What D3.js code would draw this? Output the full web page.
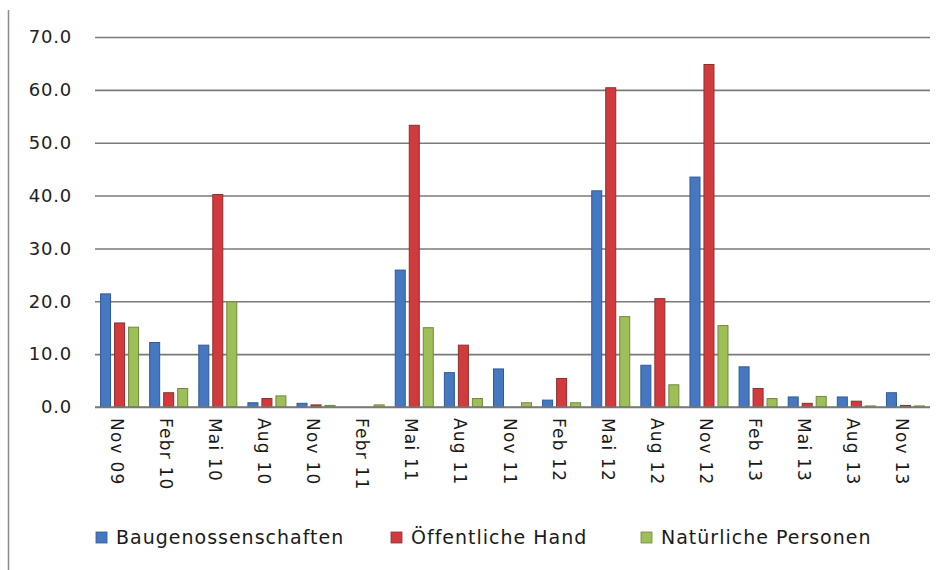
<!DOCTYPE html>
<html>
<head>
<meta charset="utf-8">
<script src="https://cdn.jsdelivr.net/npm/d3@7"></script>
<style>
  html, body { margin: 0; padding: 0; background: #fff; }
  svg { display: block; }
</style>
</head>
<body>
<svg id="chart" width="945" height="570"></svg>
<script>
// Quarterly periods
const periods = ["Nov 09", "Febr 10", "Mai 10", "Aug 10", "Nov 10", "Febr 11", "Mai 11", "Aug 11",
  "Nov 11", "Feb 12", "Mai 12", "Aug 12", "Nov 12", "Feb 13", "Mai 13", "Aug 13", "Nov 13"];

const seriesNames = ["Baugenossenschaften", "Öffentliche Hand", "Natürliche Personen"];

const baugenossenschaften = [21.4, 12.2, 11.7, 0.8, 0.7, 0.0, 25.9, 6.5, 7.2, 1.3, 40.9, 7.9, 43.5, 7.6, 1.9, 1.9, 2.7];
const oeffentlicheHand    = [15.9, 2.7, 40.2, 1.6, 0.4, 0.0, 53.3, 11.7, 0.0, 5.4, 60.4, 20.5, 64.8, 3.5, 0.7, 1.1, 0.3];
const natuerlichePersonen = [15.1, 3.5, 19.9, 2.1, 0.3, 0.4, 15.0, 1.6, 0.8, 0.8, 17.1, 4.2, 15.4, 1.6, 2.0, 0.2, 0.2];

const yTicks = [0, 10, 20, 30, 40, 50, 60, 70];

const seriesValues = [baugenossenschaften, oeffentlicheHand, natuerlichePersonen];
const fills   = ["#4678c2", "#d23b3d", "#9dbf57"];
const strokes = ["#2f5a96", "#8e2e2f", "#70893c"];

const svg = d3.select("#chart");

// Left frame line
svg.append("line")
  .attr("x1", 8.5).attr("x2", 8.5).attr("y1", 10).attr("y2", 570)
  .attr("stroke", "#8a8a8a").attr("stroke-width", 1.5);

const plot = { left: 95, right: 930, top: 37, bottom: 407 };

const x = d3.scaleBand().domain(periods).range([plot.left, plot.right]).paddingInner(0).paddingOuter(0);
const xs = d3.scaleBand().domain(seriesNames).range([-19, 19]).paddingInner(0.2857);
const y = d3.scaleLinear().domain([0, 70]).range([plot.bottom, plot.top]);

// Gridlines with y labels
const yAxis = d3.axisLeft(y)
  .tickValues(yTicks)
  .tickSize(-(plot.right - plot.left))
  .tickPadding(23)
  .tickFormat(d3.format(".1f"));

const gy = svg.append("g")
  .attr("transform", `translate(${plot.left},0)`)
  .call(yAxis);
gy.select(".domain").remove();
gy.selectAll(".tick line").attr("stroke", "#7a7a7a").attr("stroke-width", 1.6);
gy.selectAll(".tick text")
  .attr("fill", "#222")
  .attr("font-family", "DejaVu Sans, Verdana, sans-serif")
  .attr("font-size", 18)
  .attr("letter-spacing", 0.8);

// Bars
const rows = periods.map((p, i) => ({ period: p, values: seriesValues.map((s, k) => ({ k, v: s[i] })) }));

const groups = svg.append("g").selectAll("g")
  .data(rows)
  .join("g")
  .attr("transform", d => `translate(${x(d.period) + x.bandwidth() / 2},0)`);

groups.selectAll("rect")
  .data(d => d.values)
  .join("rect")
  .attr("x", d => xs(seriesNames[d.k]))
  .attr("width", xs.bandwidth())
  .attr("y", d => y(d.v))
  .attr("height", d => y(0) - y(d.v))
  .attr("fill", d => fills[d.k])
  .attr("stroke", d => d.v > 0 ? strokes[d.k] : "none")
  .attr("stroke-width", 1);

// Baseline
svg.append("line")
  .attr("x1", plot.left).attr("x2", plot.right)
  .attr("y1", y(0)).attr("y2", y(0))
  .attr("stroke", "#7a7a7a").attr("stroke-width", 1.6);

// Category labels, rotated
const xAxis = d3.axisBottom(x).tickSize(0).tickPadding(0);
const gx = svg.append("g")
  .attr("transform", `translate(0,${plot.bottom})`)
  .call(xAxis);
gx.select(".domain").remove();
gx.selectAll(".tick text")
  .attr("transform", "translate(-3,11) rotate(90)")
  .attr("text-anchor", "start")
  .attr("dy", "0.35em")
  .attr("y", 0)
  .attr("x", 0)
  .attr("fill", "#1a1a1a")
  .attr("font-family", "DejaVu Sans, Verdana, sans-serif")
  .attr("font-size", 17)
  .attr("letter-spacing", 1.2);

// Legend
const legendItems = [
  { name: seriesNames[0], k: 0, x: 96 },
  { name: seriesNames[1], k: 1, x: 391 },
  { name: seriesNames[2], k: 2, x: 641 }
];
const lg = svg.append("g").selectAll("g")
  .data(legendItems)
  .join("g")
  .attr("transform", d => `translate(${d.x},532)`);
lg.append("rect")
  .attr("width", 11).attr("height", 11)
  .attr("fill", d => fills[d.k])
  .attr("stroke", d => strokes[d.k]).attr("stroke-width", 0.8);
lg.append("text")
  .attr("x", 20).attr("y", 12)
  .attr("fill", "#1a1a1a")
  .attr("font-family", "DejaVu Sans, Verdana, sans-serif")
  .attr("font-size", 19)
  .attr("letter-spacing", 1.0)
  .text(d => d.name);
</script>
</body>
</html>
